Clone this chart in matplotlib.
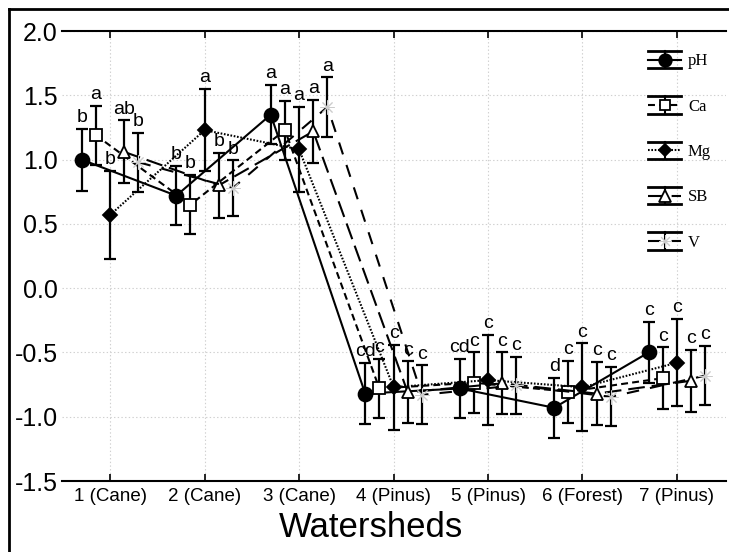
import numpy as np
import matplotlib
matplotlib.use("Agg")
import matplotlib.pyplot as plt
from matplotlib.lines import Line2D
from matplotlib.legend_handler import HandlerBase

plt.rcParams['font.family'] = ['Liberation Sans', 'DejaVu Sans']
plt.rcParams['axes.unicode_minus'] = False
plt.rcParams['lines.scale_dashes'] = False

# --- data ---
watersheds = ["1 (Cane)", "2 (Cane)", "3 (Cane)", "4 (Pinus)", "5 (Pinus)", "6 (Forest)", "7 (Pinus)"]
series = ["pH", "Ca", "Mg", "SB", "V"]

ph_mean = [1.00, 0.72, 1.35, -0.82, -0.78, -0.93, -0.50]
ph_err = [0.24, 0.23, 0.23, 0.24, 0.23, 0.235, 0.24]
ca_mean = [1.19, 0.65, 1.23, -0.78, -0.735, -0.805, -0.70]
ca_err = [0.23, 0.23, 0.23, 0.23, 0.235, 0.24, 0.24]
mg_mean = [0.57, 1.23, 1.08, -0.77, -0.715, -0.77, -0.58]
mg_err = [0.345, 0.32, 0.33, 0.33, 0.35, 0.34, 0.34]
sb_mean = [1.06, 0.80, 1.22, -0.81, -0.74, -0.82, -0.72]
sb_err = [0.245, 0.25, 0.245, 0.24, 0.24, 0.245, 0.24]
v_mean = [0.98, 0.78, 1.41, -0.83, -0.755, -0.845, -0.68]
v_err = [0.23, 0.215, 0.23, 0.23, 0.22, 0.23, 0.23]

ph_lab = ["b", "b", "a", "cd", "cd", "d", "c"]
ca_lab = ["a", "b", "a", "c", "c", "c", "c"]
mg_lab = ["b", "a", "a", "c", "c", "c", "c"]
sb_lab = ["ab", "b", "a", "c", "c", "c", "c"]
v_lab = ["b", "b", "a", "c", "c", "c", "c"]

means = [ph_mean, ca_mean, mg_mean, sb_mean, v_mean]
errs = [ph_err, ca_err, mg_err, sb_err, v_err]
letters = [ph_lab, ca_lab, mg_lab, sb_lab, v_lab]

# styles per series
styles = [
    dict(marker='o', ms=10, mfc='black', mec='black', mew=1.3, ls='-'),
    dict(marker='s', ms=8, mfc='white', mec='black', mew=1.3, ls=(0, (5, 3))),
    dict(marker='D', ms=7, mfc='black', mec='black', mew=1.3, ls=(0, (1.2, 1.2))),
    dict(marker='^', ms=9, mfc='white', mec='black', mew=1.3, ls=(0, (12, 5))),
    dict(marker=(8, 2, 0), ms=10, mfc='#cccccc', mec='#cccccc', mew=0.7, ls=(0, (9, 8))),
]
offsets = [-0.30, -0.15, 0.0, 0.15, 0.30]


class CapHandler(HandlerBase):
    """errorbar-like legend glyph with caps spanning the whole handle"""
    def __init__(self, st):
        super().__init__()
        self.st = st

    def create_artists(self, legend, orig_handle, xdescent, ydescent,
                       width, height, fontsize, trans):
        st = self.st
        x0, x1 = -xdescent, -xdescent + width
        ym = -ydescent + height / 2
        h = height * 0.48
        xm = (x0 + x1) / 2
        arts = [
            Line2D([x0, x1], [ym + h, ym + h], color='black', lw=2),
            Line2D([x0, x1], [ym - h, ym - h], color='black', lw=2),
            Line2D([xm, xm], [ym - h, ym + h], color='black', lw=1.5),
            Line2D([x0, x1], [ym, ym], color='black', lw=1.5, ls=st['ls']),
            Line2D([xm], [ym], marker=st['marker'], ms=st['ms'] * 0.9,
                   mfc=st['mfc'], mec=st['mec'], mew=st['mew'], ls='none'),
        ]
        for a in arts:
            a.set_transform(trans)
        return arts


fig = plt.figure(figsize=(7.29, 5.52), dpi=100)
ax = fig.add_axes([0.085, 0.1286, 0.911, 0.815])

x = np.arange(1, len(watersheds) + 1)
handles = []
for i, name in enumerate(series):
    st = styles[i]
    xs = x + offsets[i]
    ax.errorbar(xs, means[i], yerr=errs[i], fmt='none', ecolor='black',
                elinewidth=1.6, capsize=4.5, capthick=1.6, zorder=3)
    ln, = ax.plot(xs, means[i], color='black', lw=1.5, ls=st['ls'],
                  marker=st['marker'], ms=st['ms'], mfc=st['mfc'],
                  mec=st['mec'], mew=st['mew'], zorder=4, label=name)
    handles.append(ln)
    for xi, yi, ei, t in zip(xs, means[i], errs[i], letters[i]):
        ax.annotate(t, (xi, yi + ei), xytext=(0, 2), textcoords='offset points',
                    ha='center', va='bottom', fontsize=14)

ax.set_xlim(0.49, 7.52)
ax.set_ylim(-1.5, 2.0)
ax.set_yticks(np.arange(-1.5, 2.01, 0.5))
ax.set_yticklabels([f"{v:.1f}" for v in np.arange(-1.5, 2.01, 0.5)], fontsize=18)
ax.set_xticks(x)
ax.set_xticklabels(watersheds, fontsize=13.5)
ax.set_xlabel("Watersheds", fontsize=25)
ax.xaxis.set_label_coords((371 - 62) / 664, -0.066)

ax.spines['left'].set_visible(False)
ax.spines['right'].set_visible(False)
ax.spines['top'].set_linewidth(1.5)
ax.spines['bottom'].set_linewidth(1.5)
ax.tick_params(axis='y', length=0, pad=3)
ax.tick_params(axis='x', direction='in', length=5, width=1.2, top=True, pad=5)
ax.grid(True, color='#d0d0d0', ls=':', lw=0.8)
ax.set_axisbelow(True)

leg = ax.legend(handles=handles, labels=series, loc='upper right',
                bbox_to_anchor=(1.0, 0.99), frameon=False,
                handler_map={h: CapHandler(styles[k]) for k, h in enumerate(handles)},
                handlelength=2.0, handleheight=1.3, labelspacing=1.6,
                handletextpad=0.4, prop={'family': 'Liberation Serif', 'size': 12})

# outer frame (cropped on right / bottom in the original)
fig.add_artist(Line2D([9 / 729, 9 / 729], [0, 1 - 9 / 552], color='black', lw=2,
                      transform=fig.transFigure))
fig.add_artist(Line2D([9 / 729, 1], [1 - 9 / 552, 1 - 9 / 552], color='black', lw=2,
                      transform=fig.transFigure))

fig.savefig("out.png", dpi=100)
